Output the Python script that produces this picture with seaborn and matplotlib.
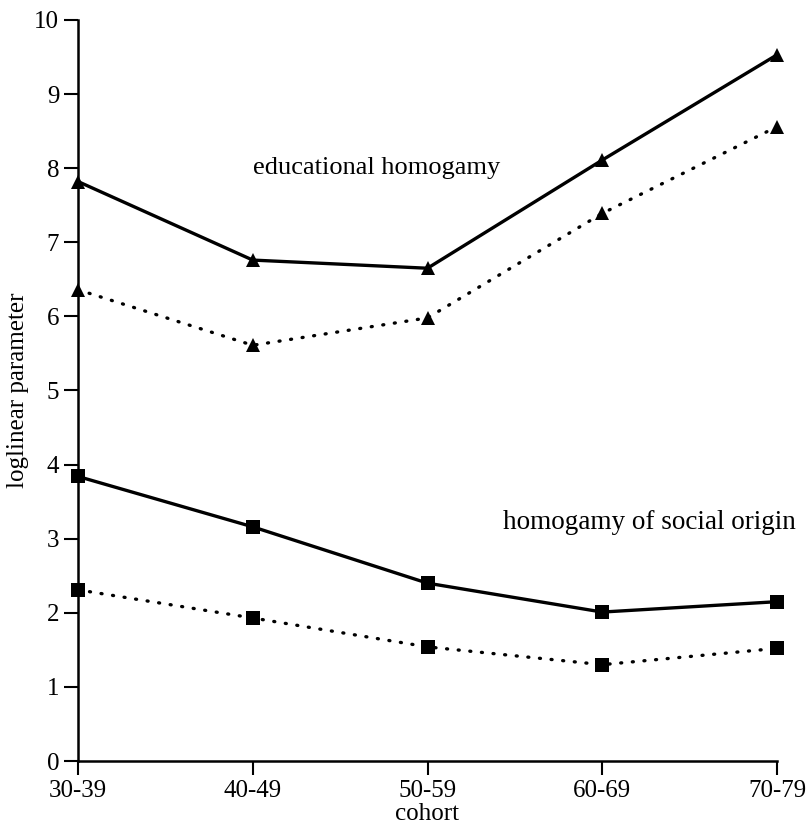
import matplotlib
matplotlib.use('Agg')
import matplotlib.pyplot as plt
import seaborn as sns
import pandas as pd

cohorts = ['30-39', '40-49', '50-59', '60-69', '70-79']
edu_solid = [7.82, 6.76, 6.65, 8.11, 9.53]
edu_dotted = [6.36, 5.61, 5.98, 7.39, 8.56]
soc_solid = [3.84, 3.16, 2.40, 2.01, 2.15]
soc_dotted = [2.31, 1.93, 1.54, 1.30, 1.52]

sns.set_style('ticks', {'text.color': 'black', 'axes.labelcolor': 'black',
                        'xtick.color': 'black', 'ytick.color': 'black'})
plt.rcParams['font.family'] = ['Liberation Serif', 'DejaVu Serif']

fig = plt.figure(figsize=(8.08, 8.34), dpi=100)
ax = fig.add_axes([78 / 808, 1 - 761 / 834, (777 - 78) / 808, (761 - 20) / 834])

series = [
    (edu_solid, '^', '-'),
    (edu_dotted, '^', (0, (0.3, 3.2))),
    (soc_solid, 's', '-'),
    (soc_dotted, 's', (0, (0.3, 3.2))),
]
for vals, mk, ls in series:
    df = pd.DataFrame({'cohort': cohorts, 'value': vals})
    sns.lineplot(data=df, x='cohort', y='value', ax=ax, color='black',
                 marker=mk, markersize=10.5, markeredgewidth=0, linewidth=2.4,
                 linestyle=ls, dash_capstyle='round', clip_on=False, sort=False)

ax.set_xlim(0, 4)
ax.set_ylim(0, 10)
ax.set_yticks(range(0, 11))
ax.set_xlabel('cohort', fontsize=18, labelpad=1)
ax.set_ylabel('loglinear parameter', fontsize=18, labelpad=4)
ax.tick_params(axis='both', labelsize=18, length=10, width=1.5, color='black',
               labelcolor='black')
sns.despine(ax=ax)
for s in ['left', 'bottom']:
    ax.spines[s].set_linewidth(1.8)
    ax.spines[s].set_color('black')

ax.text(1.0, 8.0, 'educational homogamy', fontsize=19, ha='left', va='center',
        color='black')
ax.text(2.43, 3.22, 'homogamy of social origin', fontsize=19.5, ha='left',
        va='center', color='black')

fig.savefig('out.png', dpi=100)
